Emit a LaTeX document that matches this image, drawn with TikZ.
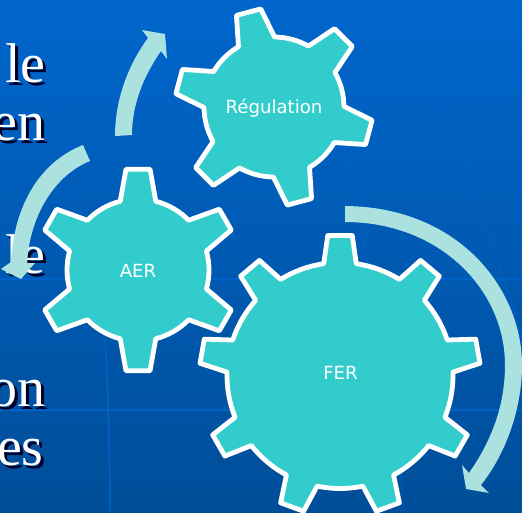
\documentclass[tikz,border=0pt]{standalone}
\usepackage{fontspec}
\setmainfont{Liberation Serif}
\newfontfamily\labelfont{DejaVu Sans}
\definecolor{gearfill}{RGB}{51,204,204}
\definecolor{arrowfill}{RGB}{171,226,224}
\definecolor{bgtop}{RGB}{0,102,204}
\definecolor{bgbot}{RGB}{0,78,153}
\definecolor{gridline}{RGB}{0,102,208}
\tikzset{
  gearshape/.style={draw=white,fill=gearfill,line width=3.6pt,line join=round},
  gearlabel/.style={text=white,font=\labelfont\fontsize{13.6}{15}\selectfont,inner sep=0pt,anchor=base},
  bend arrow/.style={fill=arrowfill,draw=none},
  slidetext/.style={text=white,font=\fontsize{42}{48}\selectfont,inner sep=0pt,anchor=base east},
  slideshadow/.style={text=black!85!blue,font=\fontsize{42}{48}\selectfont,inner sep=0pt,anchor=base east},
  gridstroke/.style={draw=gridline,line width=1.3pt,opacity=.75},
  faintstroke/.style={draw=gridline,line width=1pt,opacity=.4}
}
% #1 cx, #2 cy, #3 root r, #4 tip r, #5 teeth, #6 first tooth angle, #7 root half angle, #8 tip half angle
\newcommand{\drawgear}[8]{%
  \pgfmathsetmacro{\gstep}{360/#5}%
  \pgfmathsetmacro{\gstart}{#6+#7}%
  \begin{scope}[shift={(#1,#2)},y=0.75pt]
  \draw[gearshape] (\gstart:#3)
  \foreach \gi [evaluate=\gi as \ga using #6-(\gi-1)*\gstep,
                evaluate=\gi as \gb using #6-(\gi-1)*\gstep-#7,
                evaluate=\gi as \gc using #6-\gi*\gstep+#7] in {1,...,#5}{
    -- (\ga+#8:#4)
    -- (\ga-#8:#4)
    -- (\gb:#3)
    arc[start angle=\gb,end angle=\gc,radius=#3]
  } -- cycle;
  \end{scope}%
}
\begin{document}
\begin{tikzpicture}[x=0.75pt,y=-0.75pt]
\useasboundingbox (0,0) rectangle (522,512);
\begin{scope}
\clip (0,0) rectangle (522,512);
\shade[top color=bgtop,bottom color=bgbot] (0,0) rectangle (522,512);
% faint background grid
\draw[faintstroke] (0,15) -- (522,15);
\draw[faintstroke] (0,147) -- (522,147);
\draw[gridstroke] (0,279) -- (522,279);
\draw[gridstroke] (0,410) -- (522,410);
\draw[faintstroke] (58,90) .. controls (78,200) and (100,300) .. (106,350);
\draw[gridstroke] (106,350) .. controls (108,400) and (110,460) .. (110,512);
\draw[faintstroke] (430,60) .. controls (470,170) and (505,280) .. (522,340);
\draw[faintstroke] (345,150) .. controls (365,250) and (400,400) .. (403,512);
% slide text fragments
\foreach \tx/\ty/\tt in {46/82/le,46/140/en,46/273/le,46/406/on,44/465/es}{
  \node[slideshadow] at (\tx+3,\ty+3) {\tt};
  \node[slidetext] at (\tx,\ty) {\tt};
}
\end{scope}
% curved arrows
\fill[bend arrow] (115,136) .. controls (115,100) and (128,65) .. (148,38) -- (142,30) -- (165,34) -- (167,59) -- (161,51) .. controls (143,77) and (132,105) .. (132,135) -- cycle;
\fill[bend arrow] (83,145) .. controls (40,162) and (14,205) .. (11,262) -- (1,269) -- (21,279) -- (35,263) -- (27,263) .. controls (30,215) and (55,175) .. (90,161) -- cycle;
\fill[bend arrow] (345,206) .. controls (460,207) and (522,290) .. (522,365) .. controls (522,410) and (505,455) .. (481,485) -- (489,493) -- (466,489) -- (462,465) -- (469,473) .. controls (492,440) and (505,405) .. (505,365) .. controls (505,290) and (440,222) .. (345,222) -- cycle;
% gears
\drawgear{274}{107}{70}{99}{6}{105}{15.5}{7.3}
\drawgear{138}{270}{71}{101.5}{6}{90}{14.5}{6.8}
\drawgear{340}{375.5}{113}{140.5}{9}{90}{8.3}{5}
\node[gearlabel] (reg) at (274,113) {Régulation};
\node[gearlabel] (aer) at (138,277) {AER};
\node[gearlabel] (fer) at (340.5,379) {FER};
\end{tikzpicture}
\end{document}
